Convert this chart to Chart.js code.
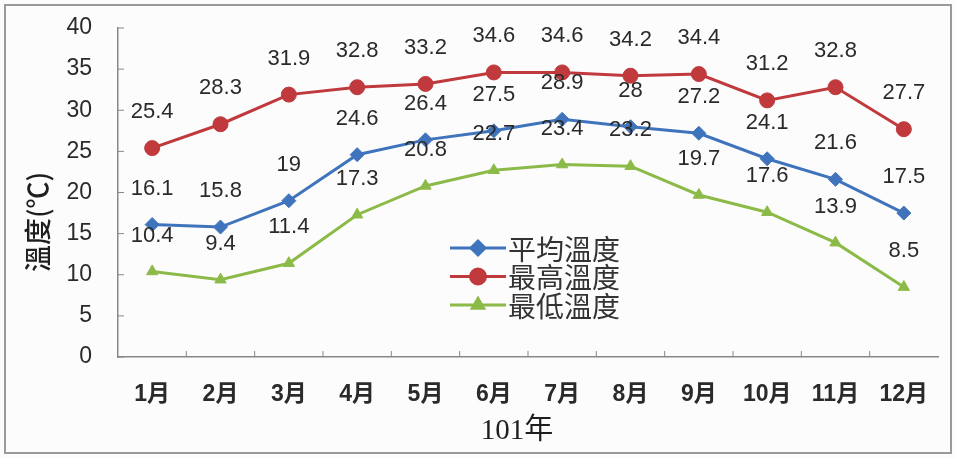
<!DOCTYPE html>
<html>
<head>
<meta charset="utf-8">
<script src="https://cdn.jsdelivr.net/npm/chart.js@4/dist/chart.umd.min.js"></script>
<style>
  html, body { margin: 0; padding: 0; background: #fff; }
  #wrap { width: 956px; height: 458px; position: relative; }
</style>
</head>
<body>
<div id="wrap"><canvas id="tempChart" width="956" height="458"></canvas></div>
<script>
const months = ['1月', '2月', '3月', '4月', '5月', '6月', '7月', '8月', '9月', '10月', '11月', '12月'];
const avgTemp = [16.1, 15.8, 19, 24.6, 26.4, 27.5, 28.9, 28, 27.2, 24.1, 21.6, 17.5];
const maxTemp = [25.4, 28.3, 31.9, 32.8, 33.2, 34.6, 34.6, 34.2, 34.4, 31.2, 32.8, 27.7];
const minTemp = [10.4, 9.4, 11.4, 17.3, 20.8, 22.7, 23.4, 23.2, 19.7, 17.6, 13.9, 8.5];
const seriesNames = ['平均溫度', '最高溫度', '最低溫度'];
const yTitle = '溫度(℃)';
const xTitle = '101年';

const cjk = '"Liberation Sans", "Noto Sans CJK TC", sans-serif';

// labels above points, axis titles, in-plot legend, frame
const overlay = {
    id: 'overlay',
    beforeDraw(chart) {
        const ctx = chart.ctx;
        ctx.save();
        ctx.fillStyle = '#fcfcfc';
        ctx.fillRect(0, 0, chart.width, chart.height);
        ctx.strokeStyle = '#9a9a9a';
        ctx.lineWidth = 2;
        ctx.strokeRect(5, 5, chart.width - 10, chart.height - 10);
        ctx.restore();
    },
    afterDatasetsDraw(chart) {
        const ctx = chart.ctx;
        ctx.save();
        ctx.font = '22px ' + cjk;
        ctx.fillStyle = '#2a2a2a';
        ctx.textAlign = 'center';
        ctx.textBaseline = 'middle';
        chart.data.datasets.forEach(function(ds, i) {
            chart.getDatasetMeta(i).data.forEach(function(pt, j) {
                ctx.fillText(String(ds.data[j]), pt.x, pt.y - 36);
            });
        });
        ctx.restore();
    },
    afterDraw(chart) {
        const ctx = chart.ctx;
        const area = chart.chartArea;
        const x = chart.scales.x;
        const y = chart.scales.y;
        ctx.save();

        // small inner tick marks
        ctx.strokeStyle = '#888';
        ctx.lineWidth = 1;
        ctx.beginPath();
        for (let i = 1; i < months.length; i++) {
            const px = (x.getPixelForValue(i - 1) + x.getPixelForValue(i)) / 2;
            ctx.moveTo(px, area.bottom);
            ctx.lineTo(px, area.bottom - 6);
        }
        y.ticks.forEach(function(t) {
            const py = y.getPixelForValue(t.value);
            ctx.moveTo(area.left, py);
            ctx.lineTo(area.left + 6, py);
        });
        ctx.stroke();

        // y title
        ctx.fillStyle = '#1e1e1e';
        ctx.font = '500 27px "Noto Sans CJK TC", sans-serif';
        ctx.textAlign = 'center';
        ctx.textBaseline = 'middle';
        ctx.translate(38, 222);
        ctx.rotate(-Math.PI / 2);
        ctx.fillText(yTitle, 0, 0);
        ctx.setTransform(1, 0, 0, 1, 0, 0);
        ctx.scale(chart.currentDevicePixelRatio, chart.currentDevicePixelRatio);

        // x title
        ctx.font = '29px "Liberation Serif", "Noto Sans CJK TC", serif';
        ctx.fillText(xTitle, 517, 431);

        // legend inside the plot
        const lx = 450, ly = 248, gap = 28.5;
        chart.data.datasets.forEach(function(ds, i) {
            const cy = ly + i * gap;
            ctx.strokeStyle = ds.borderColor;
            ctx.lineWidth = 3;
            ctx.beginPath();
            ctx.moveTo(lx, cy);
            ctx.lineTo(lx + 56, cy);
            ctx.stroke();
            Chart.helpers.drawPoint(ctx, {
                pointStyle: ds.pointStyle,
                radius: ds.pointRadius,
                borderWidth: 1
            }, lx + 28, cy);
            ctx.fillStyle = ds.borderColor;
            ctx.fill();
            ctx.fillStyle = '#333';
            ctx.font = '28px "Noto Sans CJK TC", sans-serif';
            ctx.textAlign = 'left';
            ctx.fillText(ds.label, lx + 58, cy + 1);
        });
        ctx.restore();
    }
};

const colors = ['#3f74bd', '#c0393d', '#8cba48'];
const styles = ['rectRot', 'circle', 'triangle'];
const radii = [7, 7.5, 6.5];
const values = [avgTemp, maxTemp, minTemp];

const datasets = values.map(function(v, i) {
    return {
        label: seriesNames[i],
        data: v,
        borderColor: colors[i],
        backgroundColor: colors[i],
        borderWidth: 3,
        pointStyle: styles[i],
        pointRadius: radii[i],
        pointBorderWidth: 1,
        tension: 0
    };
});

new Chart(document.getElementById('tempChart').getContext('2d'), {
    type: 'line',
    data: { labels: months, datasets: datasets },
    plugins: [overlay],
    options: {
        responsive: false,
        animation: false,
        layout: { padding: { top: 28, right: 18, left: 0, bottom: 0 } },
        plugins: {
            legend: { display: false },
            tooltip: { enabled: false }
        },
        scales: {
            x: {
                offset: true,
                grid: { display: false, drawTicks: false },
                border: { display: true, color: '#888', width: 1.5 },
                ticks: {
                    padding: 24,
                    color: '#2a2a2a',
                    font: { family: cjk, size: 23, weight: 'bold' },
                    maxRotation: 0,
                    autoSkip: false
                },
                afterFit: function(scale) {
                    scale.height = 101;
                    scale.paddingLeft = 0;
                    scale.paddingRight = 0;
                }
            },
            y: {
                min: 0,
                max: 40,
                grid: { display: false, drawTicks: false },
                border: { display: true, color: '#888', width: 1.5 },
                ticks: {
                    stepSize: 5,
                    padding: 26,
                    color: '#2a2a2a',
                    font: { family: '"Liberation Sans", sans-serif', size: 23 }
                },
                afterFit: function(scale) {
                    scale.width = 118;
                    scale.paddingTop = 0;
                    scale.paddingBottom = 0;
                }
            }
        }
    }
});
</script>
</body>
</html>
